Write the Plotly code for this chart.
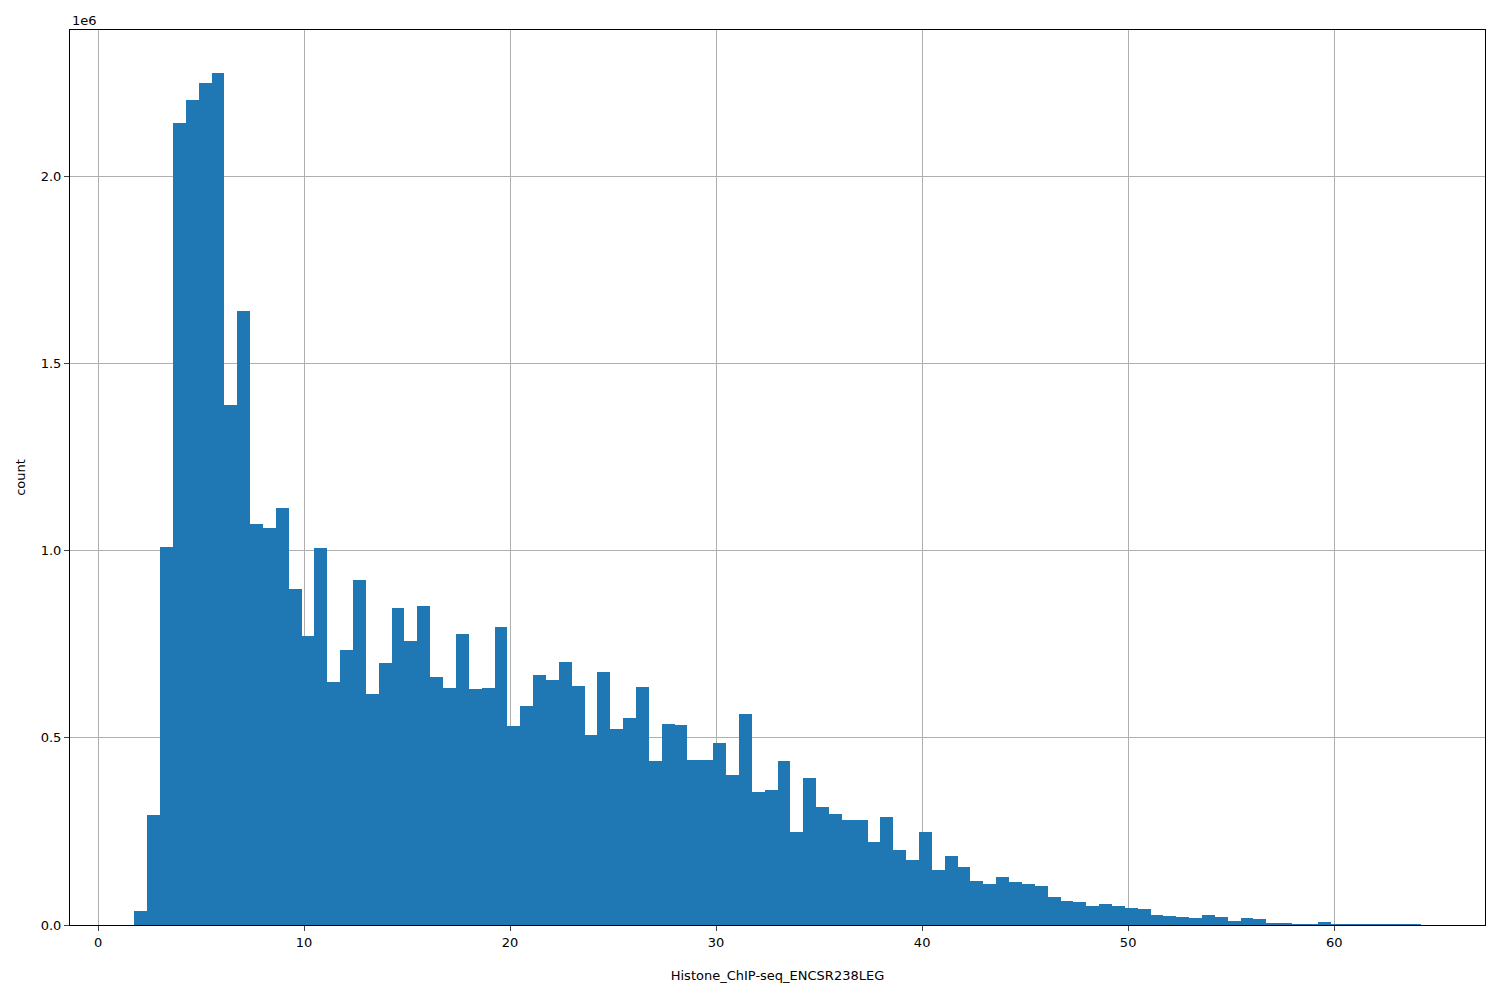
import plotly.graph_objects as go

bin_start = 1.76
bin_width = 0.6244
counts_m = [0.037,0.294,1.01,2.144,2.206,2.249,2.278,1.39,1.642,1.072,
            1.062,1.115,0.898,0.773,1.008,0.65,0.735,0.922,0.618,0.70,
            0.848,0.76,0.853,0.663,0.634,0.778,0.631,0.634,0.797,0.532,
            0.586,0.668,0.655,0.703,0.639,0.508,0.676,0.524,0.553,0.636,
            0.438,0.537,0.535,0.441,0.441,0.487,0.401,0.564,0.356,0.361,
            0.438,0.249,0.393,0.316,0.297,0.281,0.281,0.222,0.289,0.2,
            0.174,0.249,0.147,0.185,0.155,0.118,0.11,0.128,0.115,0.11,
            0.104,0.075,0.064,0.061,0.051,0.056,0.051,0.045,0.043,0.027,
            0.024,0.021,0.019,0.027,0.021,0.011,0.02,0.015,0.004,0.003,
            0.002,0.002,0.008,0.001,0.002,0.002,0.002,0.001,0.0005,0.0005]
counts = [c*1e6 for c in counts_m]
xs = [bin_start + bin_width*(i+0.5) for i in range(len(counts))]
yticks = [0, 0.5e6, 1.0e6, 1.5e6, 2.0e6]
ytext = ["0.0", "0.5", "1.0", "1.5", "2.0"]
xticks = [0, 10, 20, 30, 40, 50, 60]

lo = bin_start; hi = bin_start + bin_width*len(counts)
pad = 0.05*(hi-lo)

fig = go.Figure(go.Bar(x=xs, y=counts, width=bin_width, marker=dict(color="#1f77b4", line=dict(width=0))))
fig.update_layout(
    width=1500, height=1000, plot_bgcolor="white", paper_bgcolor="white",
    margin=dict(l=57, r=23, t=22, b=83), bargap=0, showlegend=False,
    font=dict(family="DejaVu Sans", size=13, color="black"),
    xaxis=dict(range=[lo-pad, hi+pad], tickvals=xticks, showgrid=True, gridcolor="#b0b0b0",
               showline=True, linecolor="black", mirror=True, ticks="outside", zeroline=False,
               tickfont=dict(size=13),
               title=dict(text="Histone_ChIP-seq_ENCSR238LEG", standoff=22, font=dict(size=13))),
    yaxis=dict(range=[0, max(counts)*1.05], tickvals=yticks, ticktext=ytext, showgrid=True,
               gridcolor="#b0b0b0", showline=True, linecolor="black", mirror=True, ticks="outside",
               tickfont=dict(size=13),
               zeroline=False, title=dict(text="count", standoff=12, font=dict(size=13))),
    annotations=[dict(text="1e6", xref="paper", yref="paper", x=0, y=1, xanchor="left",
                      yanchor="bottom", showarrow=False, font=dict(size=13))],
)
fig.layout.xaxis.layer = "below traces"
fig.layout.yaxis.layer = "below traces"
fig.write_html("out.html")
